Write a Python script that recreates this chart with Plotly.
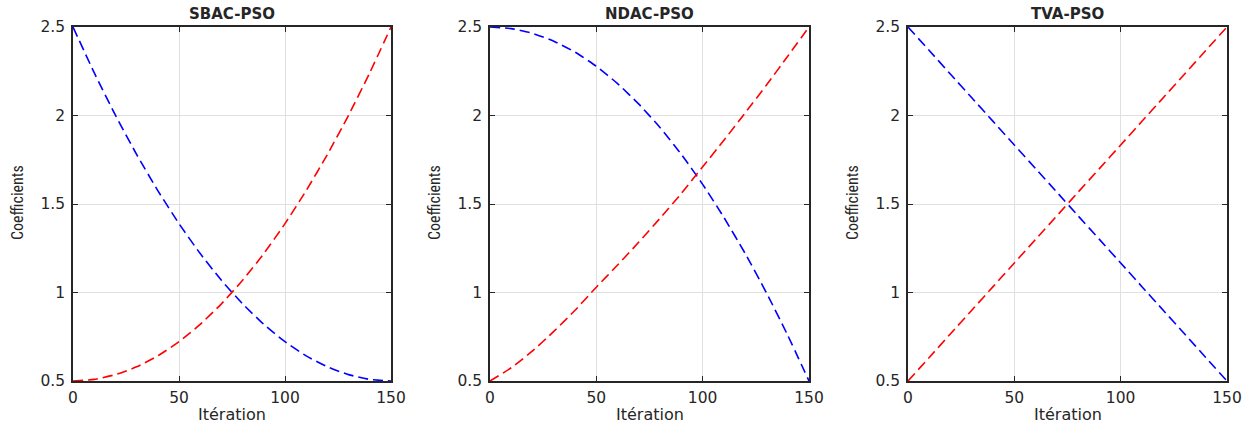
import plotly.graph_objects as go

iterations = [0, 10, 20, 30, 40, 50, 60, 70, 80, 90, 100, 110, 120, 130, 140, 150]

sbac_blue = [2.5, 2.242, 2.002, 1.78, 1.576, 1.389, 1.22, 1.069, 0.936, 0.82, 0.722, 0.642, 0.58, 0.536, 0.509, 0.5]
sbac_red = [0.5, 0.509, 0.536, 0.58, 0.642, 0.722, 0.82, 0.936, 1.069, 1.22, 1.389, 1.576, 1.78, 2.002, 2.242, 2.5]

ndac_blue = [2.5, 2.491, 2.464, 2.42, 2.358, 2.278, 2.18, 2.064, 1.931, 1.78, 1.611, 1.424, 1.22, 0.998, 0.758, 0.5]
ndac_red = [0.5, 0.575, 0.67, 0.78, 0.9, 1.03, 1.155, 1.285, 1.42, 1.56, 1.71, 1.86, 2.015, 2.172, 2.335, 2.5]

tva_blue = [2.5, 2.367, 2.233, 2.1, 1.967, 1.833, 1.7, 1.567, 1.433, 1.3, 1.167, 1.033, 0.9, 0.767, 0.633, 0.5]
tva_red = [0.5, 0.633, 0.767, 0.9, 1.033, 1.167, 1.3, 1.433, 1.567, 1.7, 1.833, 1.967, 2.1, 2.233, 2.367, 2.5]

titles = ["SBAC-PSO", "NDAC-PSO", "TVA-PSO"]
x_ticks = [0, 50, 100, 150]
y_ticks = [0.5, 1, 1.5, 2, 2.5]
y_tick_labels = ["0.5", "1", "1.5", "2", "2.5"]

W, H = 1245, 427
x_px = [(73, 391), (490, 809), (908, 1227)]
y_top, y_bot = 27, 381

series = [(sbac_blue, sbac_red), (ndac_blue, ndac_red), (tva_blue, tva_red)]

fig = go.Figure()
axcol = "#262626"
font_fam = "DejaVu Sans, Liberation Sans, sans-serif"
annotations = []
for i, ((blue, red), (x0, x1)) in enumerate(zip(series, x_px)):
    sfx = "" if i == 0 else str(i + 1)
    xa, ya = "x" + sfx, "y" + sfx
    for vals, col in ((blue, "#0000ff"), (red, "#ff0000")):
        fig.add_trace(go.Scatter(x=iterations, y=vals, xaxis=xa, yaxis=ya, mode="lines",
                                 line=dict(color=col, width=1.6, dash="10px,5px", shape="spline", smoothing=0.5),
                                 showlegend=False, hoverinfo="skip", cliponaxis=False))
    common = dict(showline=True, linecolor=axcol, linewidth=1.5, mirror="ticks", ticks="inside",
                  ticklen=5, tickcolor=axcol, tickwidth=1, showgrid=True, gridcolor="#e0e0e0",
                  gridwidth=1, zeroline=False, automargin=False,
                  tickfont=dict(family=font_fam, size=15.5, color=axcol))
    fig.update_layout(**{
        "xaxis" + sfx: dict(domain=[x0 / W, x1 / W], range=[0, 150], tickvals=x_ticks,
                            anchor=ya, ticklabelstandoff=2, **common),
        "yaxis" + sfx: dict(domain=[1 - y_bot / H, 1 - y_top / H], range=[0.5, 2.5], tickvals=y_ticks,
                            ticktext=y_tick_labels, anchor=xa, ticklabelstandoff=3, **common),
    })
    cx = (x0 + x1) / 2 / W
    annotations.append(dict(text="<b>" + titles[i] + "</b>", x=cx, y=1 - 14 / H, xref="paper", yref="paper",
                            showarrow=False, font=dict(family=font_fam, size=15, color=axcol),
                            xanchor="center", yanchor="middle"))
    annotations.append(dict(text="Itération", x=cx, y=1 - 414 / H, xref="paper", yref="paper",
                            showarrow=False, font=dict(family=font_fam, size=16, color=axcol),
                            xanchor="center", yanchor="middle"))
    annotations.append(dict(text="Coefficients", x=(x0 - 56) / W, y=1 - 203 / H, xref="paper", yref="paper",
                            showarrow=False, textangle=-90,
                            font=dict(family="Liberation Sans Narrow, Roboto Condensed, Liberation Sans, sans-serif",
                                      size=16, color=axcol),
                            xanchor="center", yanchor="middle"))

fig.update_layout(width=W, height=H, margin=dict(l=0, r=0, t=0, b=0, autoexpand=False),
                  paper_bgcolor="white", plot_bgcolor="white", annotations=annotations)
fig.write_html("out.html")
